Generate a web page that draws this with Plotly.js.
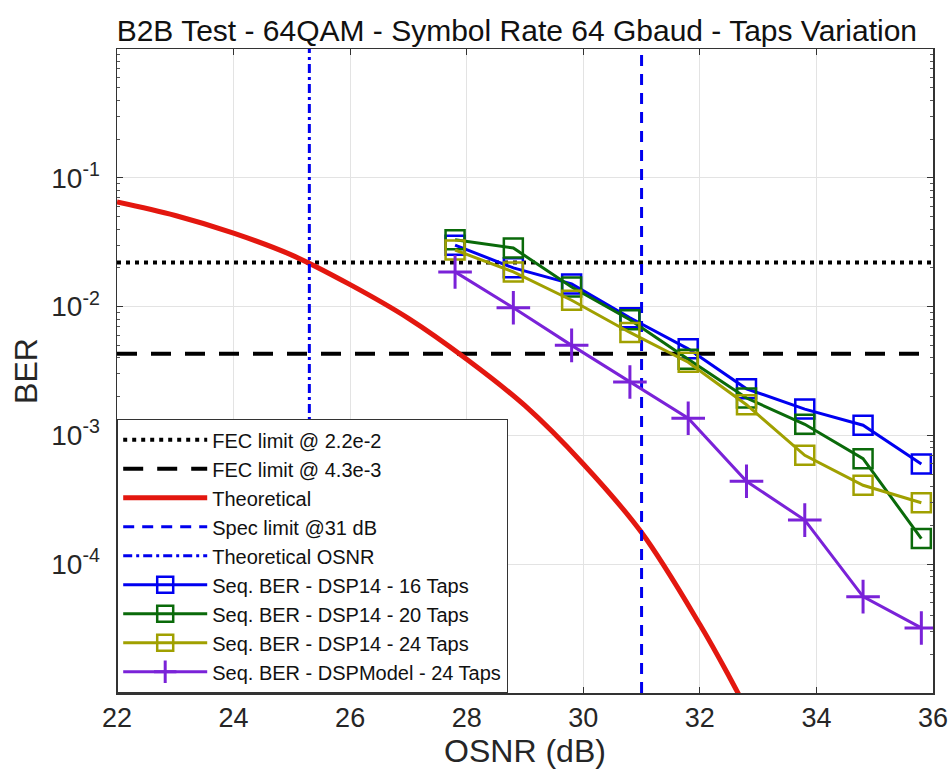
<!DOCTYPE html>
<html>
<head>
<meta charset="utf-8">
<script src="https://cdn.plot.ly/plotly-3.0.1.min.js"></script>
<style>html,body{margin:0;padding:0;background:#fff;}#chart{width:949px;height:776px;}</style>
</head>
<body>
<div id="chart"></div>
<script>
// ---- data ----
const osnrMeas = [27.8, 28.8, 29.8, 30.8, 31.8, 32.8, 33.8, 34.8, 35.8];
const ber16 = [0.030, 0.020, 0.0150, 0.0082, 0.0047, 0.0023, 0.00160, 0.00120, 0.00060];
const ber20 = [0.033, 0.0285, 0.0142, 0.0079, 0.0039, 0.00195, 0.00122, 0.00066, 0.000158];
const ber24 = [0.0275, 0.0186, 0.0112, 0.0063, 0.0037, 0.00173, 0.00070, 0.00041, 0.00030];
const berModel = [0.0186, 0.0098, 0.0050, 0.0026, 0.00136, 0.00044, 0.00022, 0.000056, 0.000032];

const osnrTheory = [22, 23, 24, 25, 26, 27, 28, 29, 30, 31, 32, 32.5, 33];
const berTheory = [0.065, 0.051, 0.0372, 0.0251, 0.0148, 0.0081, 0.0039, 0.0017, 0.00060, 0.000176, 0.000034, 0.0000135, 0.0000050];

const fecHigh = 2.2e-2;
const fecLow = 4.3e-3;
const specOsnr = 31;
const theoOsnr = 25.3;
const xSpan = [22, 36];
const ySpan = [1e-5, 1];

const xTicks = [22, 24, 26, 28, 30, 32, 34, 36];
const yTicks = [1e-4, 1e-3, 1e-2, 1e-1];
const yTickText = ['10<sup>-4</sup>', '10<sup>-3</sup>', '10<sup>-2</sup>', '10<sup>-1</sup>'];

const names = ['FEC limit @ 2.2e-2', 'FEC limit @ 4.3e-3', 'Theoretical', 'Spec limit @31 dB', 'Theoretical OSNR',
  'Seq. BER - DSP14 - 16 Taps', 'Seq. BER - DSP14 - 20 Taps', 'Seq. BER - DSP14 - 24 Taps', 'Seq. BER - DSPModel - 24 Taps'];

// minor tick positions (2..9 x 10^k)
const minorVals = [];
for (let k = -5; k < 0; k++) for (let m = 2; m <= 9; m++) minorVals.push(m * Math.pow(10, k));

const traces = [
  {x: xSpan, y: [fecHigh, fecHigh], mode: 'lines', name: names[0], line: {color: '#000', width: 4, dash: '4px,5px'}},
  {x: xSpan, y: [fecLow, fecLow], mode: 'lines', name: names[1], line: {color: '#000', width: 4, dash: '20px,14px'}},
  {x: osnrTheory, y: berTheory, mode: 'lines', name: names[2], line: {color: '#E3170F', width: 5, shape: 'spline', smoothing: 1}},
  {x: [specOsnr, specOsnr], y: ySpan, mode: 'lines', name: names[3], line: {color: '#0000EE', width: 3, dash: '11px,8px'}},
  {x: [theoOsnr, theoOsnr], y: ySpan, mode: 'lines', name: names[4], line: {color: '#0000EE', width: 3, dash: '9px,4px,3px,4px'}},
  {x: osnrMeas, y: ber16, mode: 'lines+markers', name: names[5], line: {color: '#0000F0', width: 3},
    marker: {symbol: 'square-open', size: 19, color: '#0000F0', line: {width: 2.5, color: '#0000F0'}}},
  {x: osnrMeas, y: ber20, mode: 'lines+markers', name: names[6], line: {color: '#0A6A0A', width: 3},
    marker: {symbol: 'square-open', size: 19, color: '#0A6A0A', line: {width: 2.5, color: '#0A6A0A'}}},
  {x: osnrMeas, y: ber24, mode: 'lines+markers', name: names[7], line: {color: '#A0A000', width: 3},
    marker: {symbol: 'square-open', size: 19, color: '#A0A000', line: {width: 2.5, color: '#A0A000'}}},
  {x: osnrMeas, y: berModel, mode: 'lines+markers', name: names[8], line: {color: '#7A22D8', width: 3},
    marker: {symbol: 'cross-thin-open', size: 24, color: '#7A22D8', line: {width: 3, color: '#7A22D8'}}}
];
traces.forEach((t, i) => { t.legendgroup = 'g' + i; t.hoverinfo = 'x+y'; });

const fontFam = '"Liberation Sans", Arial, sans-serif';
const layout = {
  width: 949, height: 776,
  paper_bgcolor: '#fff', plot_bgcolor: '#fff',
  margin: {l: 117, r: 16, t: 49, b: 83},
  showlegend: true,
  title: {text: 'B2B Test - 64QAM - Symbol Rate 64 Gbaud - Taps Variation', font: {family: fontFam, size: 30, color: '#111'},
    x: 0.49, xref: 'paper', xanchor: 'center', y: 1, yref: 'paper', yanchor: 'bottom', pad: {b: 8}},
  xaxis: {range: xSpan, tickvals: xTicks, ticks: 'inside', ticklen: 6, tickcolor: '#333', mirror: 'ticks',
    showline: true, linecolor: '#333', linewidth: 1.5, showgrid: true, gridcolor: '#e3e3e3', gridwidth: 1,
    zeroline: false, tickfont: {family: fontFam, size: 27, color: '#262626'},
    title: {text: 'OSNR (dB)', font: {family: fontFam, size: 32, color: '#262626'}, standoff: 3}},
  yaxis: {type: 'log', range: [-5, 0], tickmode: 'array', tickvals: yTicks, ticktext: yTickText,
    ticks: 'inside', ticklen: 6, tickcolor: '#333', mirror: 'ticks', ticklabelstandoff: 10,
    showline: true, linecolor: '#333', linewidth: 1.5, showgrid: true, gridcolor: '#e3e3e3', gridwidth: 1,
    zeroline: false, tickfont: {family: fontFam, size: 28, color: '#262626'},
    minor: {tickmode: 'array', tickvals: minorVals, ticks: 'inside', ticklen: 3, tickcolor: '#555', showgrid: false},
    title: {text: 'BER', font: {family: fontFam, size: 32, color: '#262626'}, standoff: 4}},
  legend: {x: 0, y: 0, xref: 'paper', yref: 'paper', xanchor: 'left', yanchor: 'bottom',
    bgcolor: '#fff', bordercolor: '#333', borderwidth: 1.2, itemwidth: 84, traceorder: 'grouped', tracegroupgap: 0,
    font: {family: fontFam, size: 20, color: '#111'}}
};

Plotly.newPlot('chart', traces, layout, {displayModeBar: false, staticPlot: true});
</script>
</body>
</html>
